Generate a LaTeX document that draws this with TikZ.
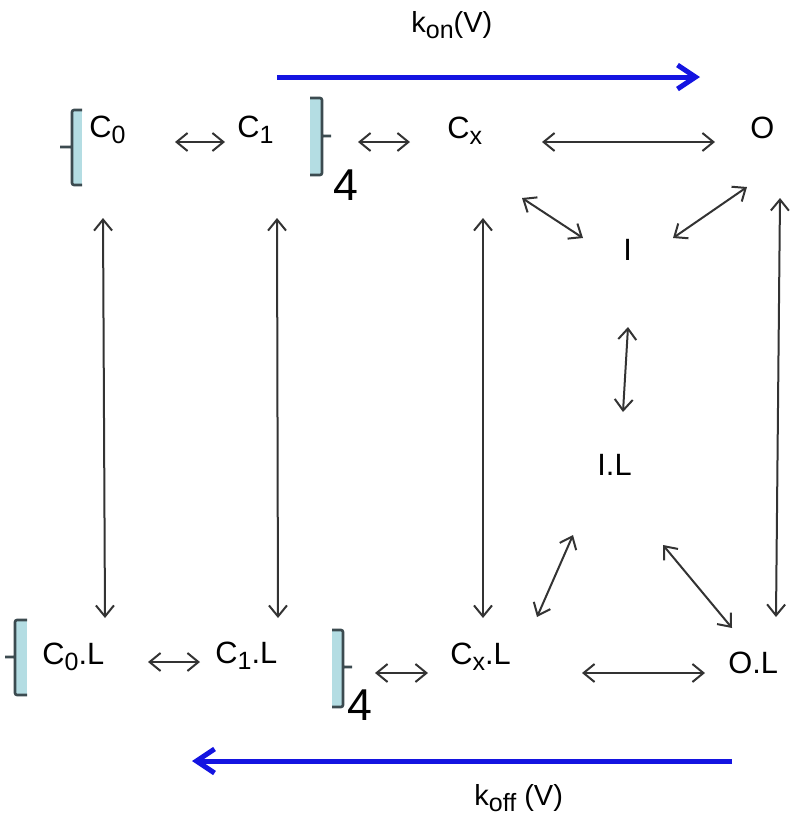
\documentclass[tikz,border=0pt]{standalone}
\usepackage{fontspec}
\setmainfont{Liberation Sans}
\usetikzlibrary{arrows.meta}
\newcommand{\lo}[1]{\raisebox{-3pt}{\fontsize{12.5}{14}\selectfont #1}}
\definecolor{brfill}{RGB}{180,221,227}
\definecolor{brline}{RGB}{60,75,80}
\definecolor{fieldblue}{RGB}{20,20,225}

\begin{document}
\begin{tikzpicture}[x=0.5pt,y=-0.5pt,
    chan/.style={inner sep=0pt,anchor=base west,font=\fontsize{15.4}{18}\selectfont},
    four/.style={chan,font=\fontsize{22.3}{26}\selectfont},
    ratelbl/.style={chan,font=\fontsize{14.5}{17}\selectfont},
    rate/.style={{Straight Barb[length=5.5pt,width=9pt]}-{Straight Barb[length=5.5pt,width=9pt]},line width=1pt,black!80},
    field/.style={-{Straight Barb[length=9pt,width=12pt]},line width=2.5pt,fieldblue},
    brk/.style={brline,line width=1.3pt,rounded corners=1pt}]
        \useasboundingbox (0,0) rectangle (795,815);

        \node[chan] (C0) at (89,137) {C\lo{0}};
        \node[chan] (C1) at (237,137) {C\lo{1}};
        \node[chan] (Cx) at (447,138) {C\lo{x}};
        \node[chan] (O) at (750,138) {O};
        \node[chan] (I) at (623,260) {I};
        \node[chan] (IL) at (597,475) {I.L};
        \node[chan] (C0L) at (42,664) {C\lo{0}.L};
        \node[chan] (C1L) at (215,663) {C\lo{1}.L};
        \node[chan] (CxL) at (450,664) {C\lo{x}.L};
        \node[chan] (OL) at (728,673) {O.L};
        \node[four] (n1) at (333,200) {4};
        \node[four] (n2) at (347,720) {4};
        \node[ratelbl] (kon) at (411,32) {k\lo{on}(V)};
        \node[ratelbl] (koff) at (474,805) {k\lo{off} (V)};

        % brackets
        \fill[brfill] (72,110) rectangle (82,185);
        \draw[brk] (82,110) -- (72,110) -- (72,185) -- (82,185) (60,147) -- (72,147);
        \fill[brfill] (310,98) rectangle (322,175);
        \draw[brk] (310,98) -- (322,98) -- (322,175) -- (310,175) (322,136) -- (331,136);
        \fill[brfill] (15,620) rectangle (27,695);
        \draw[brk] (27,620) -- (15,620) -- (15,695) -- (27,695) (5,657) -- (15,657);
        \fill[brfill] (332,630) rectangle (343,707);
        \draw[brk] (332,630) -- (343,630) -- (343,707) -- (332,707) (343,667) -- (352,667);
        \coordinate (b1) at (331,136);
        \coordinate (b2) at (352,667);

        % top row
        \draw[rate] ([shift={(86,5)}]C0.base west) -- ([shift={(-12,5)}]C1.base west);
        \draw[rate] ([shift={(27,6)}]b1) -- ([shift={(-37,4)}]Cx.base west);
        \draw[rate] ([shift={(95,4)}]Cx.base west) -- ([shift={(-35,4)}]O.base west);
        \draw[rate] ([shift={(75,60)}]Cx.base west) -- ([shift={(-40,-22)}]I.base west);
        \draw[rate] ([shift={(50,-22)}]I.base west) -- ([shift={(-3,49)}]O.base west);
        % verticals
        \draw[rate] ([shift={(14,81)}]C0.base west) -- ([shift={(63,-46)}]C0L.base west);
        \draw[rate] ([shift={(40,81)}]C1.base west) -- ([shift={(63,-45)}]C1L.base west);
        \draw[rate] ([shift={(36,80)}]Cx.base west) -- ([shift={(33,-46)}]CxL.base west);
        \draw[rate] ([shift={(30,60)}]O.base west) -- ([shift={(48,-56)}]OL.base west);
        \draw[rate] ([shift={(5,67)}]I.base west) -- ([shift={(26,-63)}]IL.base west);
        % bottom row
        \draw[rate] ([shift={(-24,60)}]IL.base west) -- ([shift={(87,-47)}]CxL.base west);
        \draw[rate] ([shift={(66,70)}]IL.base west) -- ([shift={(4,-45)}]OL.base west);
        \draw[rate] ([shift={(106,-2)}]C0L.base west) -- ([shift={(-15,-1)}]C1L.base west);
        \draw[rate] ([shift={(23,6)}]b2) -- ([shift={(-22,9)}]CxL.base west);
        \draw[rate] ([shift={(132,9)}]CxL.base west) -- ([shift={(-23,0)}]OL.base west);

        % rates
        \coordinate (on1) at (277,77);
        \coordinate (on2) at (700,77);
        \coordinate (off1) at (732,761);
        \coordinate (off2) at (192,761);
        \draw[field] (on1) -- (on2);
        \draw[field] (off1) -- (off2);

    \end{tikzpicture}
\end{document}
